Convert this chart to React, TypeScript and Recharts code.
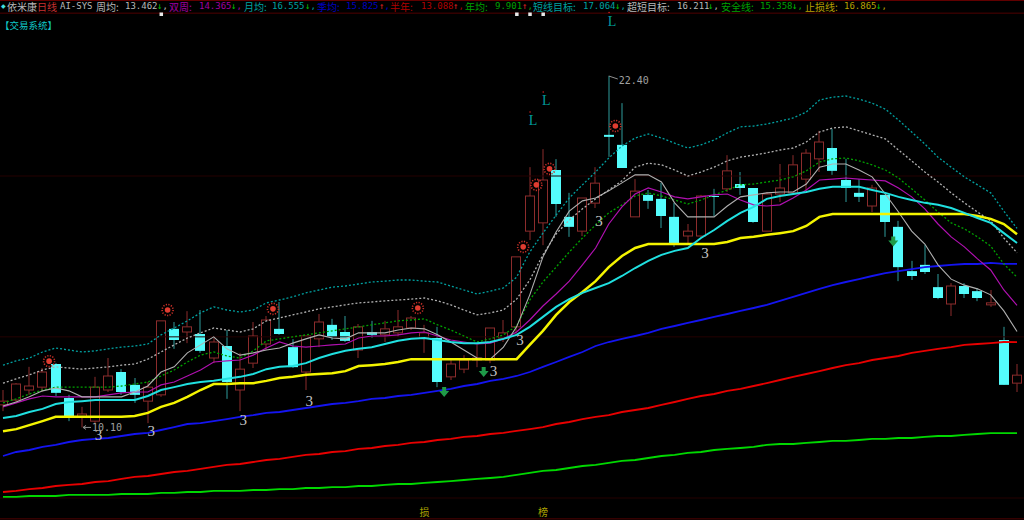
import { Bar, ComposedChart, Line, ReferenceLine, Scatter, XAxis, YAxis } from 'recharts'

const highs = [11.41, 11.65, 12.22, 12.18, 12.35, 11.24, 10.82, 11.87, 12.53, 12.14, 11.83, 11.69, 13.83, 13.79, 14.17, 14.21, 13.23, 13.51, 12.71, 13.79, 14.0, 14.49, 13.19, 13.3, 14.07, 13.9, 14.0, 13.72, 13.83, 13.83, 14.21, 14.0, 13.69, 13.62, 12.46, 12.63, 13.0, 13.58, 13.86, 16.07, 19.21, 19.84, 19.49, 18.31, 18.13, 19.21, 22.4, 21.45, 18.79, 18.41, 18.66, 17.96, 17.22, 18.24, 18.45, 19.63, 19.04, 18.48, 18.34, 19.32, 19.63, 19.84, 20.48, 20.55, 19.5, 18.79, 18.59, 18.24, 17.33, 15.93, 16.49, 15.47, 15.15, 15.15, 14.98, 14.91, 13.62, 12.32]
const lows = [10.67, 10.99, 11.24, 11.34, 11.2, 10.32, 10.1, 10.22, 11.34, 11.24, 10.96, 10.25, 11.17, 12.85, 13.05, 12.71, 12.35, 11.1, 10.67, 12.18, 12.81, 13.34, 12.18, 11.41, 12.91, 13.16, 13.09, 12.53, 13.23, 13.09, 13.27, 13.51, 12.71, 11.51, 11.76, 12.0, 12.21, 12.35, 13.09, 13.34, 16.66, 16.48, 17.47, 16.77, 16.8, 17.78, 19.57, 19.18, 17.47, 17.75, 17.08, 16.42, 16.52, 16.77, 17.5, 18.34, 18.24, 17.26, 16.97, 17.99, 18.31, 18.37, 19.04, 18.94, 17.99, 17.99, 17.64, 16.77, 15.22, 15.26, 15.47, 14.59, 14.0, 14.63, 14.52, 14.32, 11.59, 11.34]
const opens = [10.89, 11.06, 11.41, 11.51, 12.32, 11.13, 10.47, 10.32, 11.41, 12.04, 11.59, 11.02, 11.24, 13.55, 13.44, 13.37, 12.53, 12.95, 11.41, 12.35, 13.02, 13.55, 12.91, 12.04, 13.2, 13.69, 13.44, 12.81, 13.44, 13.34, 13.41, 13.58, 13.23, 13.23, 11.87, 12.14, 12.46, 12.46, 13.23, 13.62, 16.97, 17.26, 19.11, 17.47, 16.97, 17.95, 20.34, 19.99, 17.47, 18.24, 18.1, 17.47, 16.8, 16.8, 18.2, 18.45, 18.62, 18.48, 16.97, 18.27, 18.31, 18.79, 19.5, 19.88, 18.76, 18.31, 17.85, 18.24, 17.12, 15.57, 15.79, 15.01, 14.42, 15.05, 14.87, 14.39, 13.16, 11.65]
const closes = [11.02, 11.62, 11.55, 12.04, 11.31, 10.5, 10.57, 11.51, 11.9, 11.34, 11.24, 11.51, 13.83, 13.16, 13.62, 12.78, 13.09, 11.69, 12.14, 13.3, 13.86, 13.37, 12.21, 13.3, 13.79, 13.27, 13.13, 13.62, 13.34, 13.55, 13.62, 13.93, 13.41, 11.69, 12.32, 12.46, 12.53, 13.58, 13.41, 16.07, 18.2, 18.76, 17.92, 17.12, 18.13, 18.65, 20.27, 19.18, 18.37, 18.03, 17.5, 16.52, 16.97, 18.2, 18.17, 19.08, 18.48, 17.29, 18.27, 18.48, 19.29, 19.7, 20.09, 19.08, 18.48, 18.17, 18.48, 17.29, 15.71, 15.4, 15.54, 14.63, 15.05, 14.77, 14.63, 14.46, 11.59, 11.93]

const weekAvg = [10.85, 10.99, 11.17, 11.38, 11.48, 11.38, 11.17, 11.17, 11.17, 11.17, 11.34, 11.55, 12.04, 12.22, 12.71, 12.99, 13.27, 12.85, 12.63, 12.71, 12.81, 12.88, 13.05, 13.2, 13.34, 13.23, 13.2, 13.41, 13.41, 13.41, 13.51, 13.58, 13.55, 13.34, 13.09, 12.81, 12.53, 12.49, 12.91, 13.62, 14.74, 16.07, 16.94, 17.67, 18.03, 18.13, 18.38, 18.66, 18.94, 18.94, 18.69, 17.96, 17.47, 17.47, 17.47, 17.85, 18.17, 18.24, 18.31, 18.34, 18.34, 18.62, 19.21, 19.32, 19.32, 19.11, 18.87, 18.27, 17.64, 16.97, 16.52, 15.79, 15.29, 15.08, 14.95, 14.74, 14.18, 13.46]
const twoWeekAvg = [10.82, 10.96, 11.1, 11.2, 11.17, 11.17, 11.17, 11.17, 11.24, 11.31, 11.34, 11.34, 11.59, 11.69, 11.9, 12.11, 12.39, 12.43, 12.46, 12.63, 12.88, 13.09, 12.95, 12.91, 12.95, 12.99, 13.02, 13.23, 13.3, 13.3, 13.34, 13.41, 13.44, 13.3, 13.16, 13.09, 13.02, 13.05, 13.2, 13.44, 13.86, 14.35, 14.77, 15.22, 15.79, 16.38, 17.22, 17.82, 18.27, 18.48, 18.34, 18.17, 18.1, 18.17, 18.24, 18.27, 18.06, 17.89, 17.85, 17.89, 18.13, 18.41, 18.76, 18.79, 18.83, 18.79, 18.76, 18.73, 18.48, 18.17, 17.75, 17.22, 16.77, 16.42, 16.0, 15.61, 14.91, 14.37]
const monthAvg = [10.43, 10.5, 10.64, 10.75, 10.92, 10.99, 11.02, 11.06, 11.06, 11.06, 11.06, 11.2, 11.41, 11.51, 11.62, 11.69, 11.73, 11.8, 11.87, 11.97, 12.14, 12.22, 12.25, 12.35, 12.53, 12.67, 12.78, 12.85, 12.91, 13.02, 13.13, 13.2, 13.23, 13.16, 13.09, 13.05, 13.05, 13.09, 13.2, 13.34, 13.62, 13.97, 14.32, 14.59, 14.81, 14.98, 15.15, 15.4, 15.68, 15.93, 16.14, 16.28, 16.38, 16.73, 17.01, 17.33, 17.61, 17.82, 18.1, 18.2, 18.27, 18.34, 18.45, 18.52, 18.52, 18.52, 18.41, 18.31, 18.17, 18.06, 17.96, 17.89, 17.78, 17.61, 17.43, 17.26, 16.9, 16.555]
const stopLoss = [9.97, 10.04, 10.18, 10.32, 10.47, 10.47, 10.47, 10.47, 10.47, 10.47, 10.5, 10.61, 10.82, 10.96, 11.17, 11.41, 11.62, 11.62, 11.65, 11.65, 11.73, 11.83, 11.87, 11.94, 11.97, 12.0, 12.07, 12.25, 12.28, 12.32, 12.39, 12.49, 12.49, 12.49, 12.49, 12.49, 12.49, 12.49, 12.49, 12.49, 12.99, 13.48, 14.04, 14.49, 14.84, 15.22, 15.71, 16.1, 16.38, 16.52, 16.52, 16.52, 16.52, 16.52, 16.52, 16.59, 16.73, 16.77, 16.84, 16.9, 16.97, 17.15, 17.47, 17.57, 17.57, 17.57, 17.57, 17.57, 17.57, 17.57, 17.57, 17.57, 17.57, 17.57, 17.5, 17.4, 17.22, 16.865]
const seasonAvg = [9.1, 9.24, 9.31, 9.42, 9.49, 9.59, 9.66, 9.7, 9.73, 9.8, 9.87, 9.91, 10.01, 10.11, 10.22, 10.25, 10.32, 10.39, 10.47, 10.53, 10.61, 10.64, 10.71, 10.78, 10.85, 10.92, 10.96, 11.02, 11.1, 11.13, 11.2, 11.24, 11.31, 11.38, 11.45, 11.55, 11.62, 11.73, 11.8, 11.9, 12.04, 12.22, 12.39, 12.57, 12.74, 12.95, 13.09, 13.2, 13.3, 13.41, 13.55, 13.65, 13.76, 13.86, 13.97, 14.07, 14.18, 14.28, 14.39, 14.53, 14.67, 14.81, 14.95, 15.08, 15.19, 15.29, 15.4, 15.5, 15.57, 15.64, 15.71, 15.75, 15.79, 15.82, 15.82, 15.86, 15.825, 15.825]
const halfYearAvg = [7.84, 7.88, 7.94, 7.98, 8.05, 8.09, 8.12, 8.19, 8.22, 8.3, 8.37, 8.4, 8.47, 8.54, 8.58, 8.65, 8.72, 8.79, 8.82, 8.89, 8.96, 9.0, 9.07, 9.14, 9.17, 9.24, 9.27, 9.35, 9.38, 9.45, 9.49, 9.56, 9.59, 9.66, 9.7, 9.77, 9.8, 9.87, 9.91, 9.98, 10.04, 10.11, 10.22, 10.29, 10.39, 10.47, 10.53, 10.64, 10.71, 10.78, 10.89, 10.99, 11.1, 11.2, 11.27, 11.38, 11.45, 11.55, 11.65, 11.76, 11.87, 11.97, 12.07, 12.18, 12.28, 12.35, 12.46, 12.53, 12.6, 12.71, 12.78, 12.85, 12.91, 12.99, 13.02, 13.05, 13.09, 13.088]
const yearAvg = [7.67, 7.67, 7.7, 7.7, 7.7, 7.74, 7.74, 7.74, 7.74, 7.77, 7.77, 7.77, 7.81, 7.81, 7.84, 7.84, 7.88, 7.88, 7.88, 7.91, 7.91, 7.94, 7.94, 7.98, 7.98, 8.01, 8.01, 8.05, 8.05, 8.09, 8.12, 8.12, 8.16, 8.19, 8.22, 8.26, 8.3, 8.33, 8.37, 8.44, 8.51, 8.58, 8.61, 8.68, 8.75, 8.79, 8.86, 8.93, 8.96, 9.03, 9.1, 9.14, 9.21, 9.24, 9.31, 9.35, 9.38, 9.42, 9.49, 9.52, 9.52, 9.56, 9.59, 9.63, 9.63, 9.66, 9.7, 9.7, 9.73, 9.73, 9.77, 9.8, 9.8, 9.84, 9.87, 9.9, 9.9, 9.901]
const shortTarget = [12.28, 12.43, 12.53, 12.74, 12.88, 12.81, 12.74, 12.78, 12.85, 12.91, 12.95, 13.02, 13.34, 13.58, 13.83, 14.11, 14.32, 14.21, 14.14, 14.21, 14.46, 14.56, 14.67, 14.81, 14.91, 15.01, 15.05, 15.12, 15.19, 15.22, 15.26, 15.26, 15.22, 15.19, 15.05, 14.91, 14.77, 14.87, 14.98, 15.36, 16.24, 16.9, 17.53, 18.13, 18.59, 19.04, 19.53, 19.95, 20.23, 20.37, 20.23, 20.05, 19.88, 19.99, 20.16, 20.41, 20.62, 20.65, 20.72, 20.82, 20.93, 21.14, 21.56, 21.66, 21.7, 21.59, 21.45, 21.24, 20.86, 20.44, 20.02, 19.56, 19.21, 18.87, 18.59, 18.31, 17.67, 17.064]
const ultraShortTarget = [11.65, 11.8, 11.94, 12.11, 12.22, 12.18, 12.14, 12.18, 12.22, 12.28, 12.32, 12.49, 12.74, 12.99, 13.23, 13.41, 13.58, 13.51, 13.44, 13.55, 13.83, 13.93, 14.04, 14.14, 14.25, 14.32, 14.39, 14.46, 14.49, 14.53, 14.56, 14.59, 14.63, 14.53, 14.39, 14.21, 14.04, 14.11, 14.21, 14.59, 15.26, 16.14, 16.87, 17.36, 17.75, 18.1, 18.41, 18.73, 19.21, 19.35, 19.29, 19.11, 18.9, 19.04, 19.21, 19.43, 19.56, 19.63, 19.71, 19.81, 19.88, 20.09, 20.44, 20.58, 20.62, 20.48, 20.34, 20.2, 19.81, 19.43, 19.04, 18.69, 18.31, 17.96, 17.64, 17.33, 16.73, 16.211]
const safeLine = [10.96, 11.1, 11.27, 11.41, 11.51, 11.51, 11.51, 11.51, 11.51, 11.55, 11.62, 11.69, 11.9, 12.11, 12.39, 12.63, 12.74, 12.6, 12.53, 12.78, 13.13, 13.2, 13.27, 13.34, 13.41, 13.48, 13.55, 13.62, 13.69, 13.76, 13.83, 13.86, 13.9, 13.69, 13.51, 13.3, 13.09, 13.2, 13.34, 13.65, 14.56, 15.19, 15.71, 16.24, 16.73, 17.19, 17.61, 17.89, 18.2, 18.31, 18.2, 18.06, 17.92, 18.06, 18.24, 18.41, 18.59, 18.62, 18.69, 18.76, 18.87, 19.08, 19.39, 19.5, 19.53, 19.43, 19.29, 19.11, 18.83, 18.45, 18.06, 17.64, 17.26, 17.05, 16.77, 16.45, 15.82, 15.358]

const gridPrices = [18.9, 13.27, 7.63]
const sunPoints = [
  { x: 3.5, y: 12.42 }, { x: 12.5, y: 14.21 }, { x: 20.5, y: 14.25 }, { x: 31.5, y: 14.28 },
  { x: 39.5, y: 16.42 }, { x: 40.5, y: 18.59 }, { x: 41.5, y: 19.15 }, { x: 46.5, y: 20.65 },
]
const threePoints = [
  { x: 7.25, y: 9.85 }, { x: 11.25, y: 9.96 }, { x: 18.25, y: 10.36 }, { x: 23.25, y: 11.03 },
  { x: 37.25, y: 12.07 }, { x: 39.25, y: 13.16 }, { x: 45.25, y: 17.33 }, { x: 53.3, y: 16.2 },
]
const lPoints = [{ x: 40.25, y: 20.86 }, { x: 41.25, y: 21.56 }, { x: 46.25, y: 24.34 }]
const arrowPoints = [{ x: 33.5, y: 11.34 }, { x: 36.5, y: 12.04 }, { x: 67.6, y: 16.61 }]
const squarePoints = [{ x: 12, y: 24.57 }, { x: 39, y: 24.57 }, { x: 40, y: 24.57 }, { x: 41, y: 24.57 }]
const footPoints = [{ x: 32, y: 7.14, text: '损' }, { x: 41, y: 7.14, text: '榜' }]
const highMark = [{ x: 46, y: 22.4, text: '22.40' }]
const lowMark = [{ x: 6, y: 10.1, text: '10.10' }]

const headerLabels = [
  { left: 7, text: '依米康', color: '#b8b8b8' },
  { left: 37, text: '日线', color: '#c83030' },
  { left: 96, text: '周均:', color: '#b8b8b8' },
  { left: 169, text: '双周:', color: '#a000a0' },
  { left: 244, text: '月均:', color: '#00a0a0' },
  { left: 317, text: '季均:', color: '#0000c0' },
  { left: 390, text: '半年:', color: '#b00000' },
  { left: 465, text: '年均:', color: '#00a000' },
  { left: 533, text: '短线目标:', color: '#00a0a0' },
  { left: 627, text: '超短目标:', color: '#b8b8b8' },
  { left: 721, text: '安全线:', color: '#00a000' },
  { left: 805, text: '止损线:', color: '#b8a000' },
]
const headerValues = [
  { left: 60, text: 'AI-SYS', color: '#b8b8b8' },
  { left: 125, text: '13.462', color: '#b8b8b8' },
  { left: 199, text: '14.365', color: '#a000a0' },
  { left: 272, text: '16.555', color: '#00a0a0' },
  { left: 346, text: '15.825', color: '#0000c0' },
  { left: 421, text: '13.088', color: '#b00000' },
  { left: 495, text: '9.901', color: '#00a000' },
  { left: 583, text: '17.064', color: '#00a0a0' },
  { left: 677, text: '16.211', color: '#b8b8b8' },
  { left: 760, text: '15.358', color: '#00a000' },
  { left: 844, text: '16.865', color: '#b8a000' },
]
const headerArrows = [
  { left: 157, text: '↓', color: '#00c000', comma: '#b8b8b8' },
  { left: 231, text: '↓', color: '#00c000', comma: '#a000a0' },
  { left: 305, text: '↓', color: '#00c000', comma: '#00a0a0' },
  { left: 379, text: '↑', color: '#e02020', comma: '#0000c0' },
  { left: 453, text: '↑', color: '#e02020', comma: '#b00000' },
  { left: 522, text: '↑', color: '#e02020', comma: '#00a000' },
  { left: 615, text: '↓', color: '#00c000', comma: '#00a0a0' },
  { left: 708, text: '↓', color: '#00c000', comma: '#b8b8b8' },
  { left: 792, text: '↓', color: '#00c000', comma: '#00a000' },
  { left: 876, text: '↓', color: '#00c000', comma: '#b8a000' },
]

const rows = highs.map((high, i) => ({
  x: i,
  range: [lows[i], high],
  high,
  low: lows[i],
  open: opens[i],
  close: closes[i],
  weekAvg: weekAvg[i],
  twoWeekAvg: twoWeekAvg[i],
  monthAvg: monthAvg[i],
  stopLoss: stopLoss[i],
  seasonAvg: seasonAvg[i],
  halfYearAvg: halfYearAvg[i],
  yearAvg: yearAvg[i],
  shortTarget: shortTarget[i],
  ultraShortTarget: ultraShortTarget[i],
  safeLine: safeLine[i],
}))

// the scatter x values make the band narrow, so the body width is set here
const BODY_WIDTH = 10

const Candle = (props: any) => {
  const { x, y, width, height, payload } = props
  const perUnit = height / (payload.high - payload.low)
  const top = y + (payload.high - Math.max(payload.open, payload.close)) * perUnit
  const bottom = y + (payload.high - Math.min(payload.open, payload.close)) * perUnit
  const mid = Math.round(x + width / 2)
  const up = payload.close >= payload.open
  if (up) {
    return (
      <g>
        <line x1={mid} x2={mid} y1={y} y2={top} stroke="#8c2c2c" />
        <line x1={mid} x2={mid} y1={bottom} y2={y + height} stroke="#8c2c2c" />
        <rect x={mid - BODY_WIDTH / 2 + 0.5} y={top} width={BODY_WIDTH - 1} height={Math.max(bottom - top, 1)} fill="#000" stroke="#8c2c2c" />
      </g>
    )
  }
  return (
    <g>
      <line x1={mid} x2={mid} y1={y} y2={y + height} stroke="#2f9c9c" />
      <rect x={mid - BODY_WIDTH / 2} y={top} width={BODY_WIDTH} height={Math.max(bottom - top, 1)} fill="#54fcfc" />
    </g>
  )
}

const Sun = ({ cx, cy }: any) => (
  <g>
    <circle cx={cx} cy={cy} r={2.8} fill="#e03c30" />
    <circle cx={cx} cy={cy} r={5.5} fill="none" stroke="#c83028" strokeWidth={1.6} strokeDasharray="1.2 1.4" />
  </g>
)
const Three = ({ cx, cy }: any) => (
  <text x={cx} y={cy + 5} textAnchor="middle" fontSize={15} fontFamily="Liberation Serif" fill="#c4c4c4">3</text>
)
const LMark = ({ cx, cy }: any) => (
  <g>
    <circle cx={cx - 3} cy={cy - 8} r={0.8} fill="#d02020" />
    <text x={cx} y={cy + 5} textAnchor="middle" fontSize={14} fontFamily="Liberation Serif" fill="#009c9c">L</text>
  </g>
)
const GreenArrow = ({ cx, cy }: any) => (
  <path
    d={`M${cx - 2} ${cy - 5}h4v4h3l-5 6l-5 -6h3z`}
    fill="#1f9a48"
  />
)
const Square = ({ cx, cy }: any) => <rect x={cx - 1.5} y={cy - 1.5} width={3.5} height={3.5} fill="#e8e8e8" />
const Foot = ({ cx, cy, payload }: any) => (
  <text x={cx} y={cy + 4} textAnchor="middle" fontSize={10} fontFamily="Noto Sans CJK SC" fill="#a8a000">{payload.text}</text>
)
const HighNote = ({ cx, cy, payload }: any) => (
  <g>
    <path d={`M${cx} ${cy}l9 3`} stroke="#909090" fill="none" />
    <text x={cx + 10} y={cy + 8} fontSize={10} fontFamily="DejaVu Sans Mono" fill="#a0a0a0">{payload.text}</text>
  </g>
)
const LowNote = ({ cx, cy, payload }: any) => (
  <g>
    <path d={`M${cx + 1} ${cy}h8M${cx + 1} ${cy}l3 -2M${cx + 1} ${cy}l3 2`} stroke="#909090" fill="none" />
    <text x={cx + 10} y={cy + 4} fontSize={10} fontFamily="DejaVu Sans Mono" fill="#a0a0a0">{payload.text}</text>
  </g>
)

const labelStyle = { position: 'absolute', top: 0, fontSize: 10, lineHeight: '13px', fontFamily: 'Noto Sans CJK SC', whiteSpace: 'nowrap' } as const
const valueStyle = { position: 'absolute', top: 0, fontSize: 9, lineHeight: '13px', fontFamily: 'DejaVu Sans Mono', whiteSpace: 'nowrap' } as const

export default function App() {
  return (
    <div style={{ position: 'absolute', left: 0, top: 0, width: 1024, height: 520, background: '#000', overflow: 'hidden' }}>
      <ComposedChart width={1024} height={520} data={rows} margin={{ top: 0, right: 0, bottom: 0, left: 0 }}>
        <XAxis dataKey="x" type="number" domain={[-0.228, 77.53]} hide allowDataOverflow />
        <YAxis type="number" domain={[6.86, 25.06]} hide allowDataOverflow />
        {gridPrices.map(p => (
          <ReferenceLine key={p} y={p} stroke="#240000" />
        ))}
        <ReferenceLine y={24.6} stroke="#500000" />
        <ReferenceLine y={6.9} stroke="#500000" />
        <Bar dataKey="range" barSize={10} isAnimationActive={false} shape={<Candle />} />
        <Line dataKey="yearAvg" stroke="#00d800" strokeWidth={1.8} dot={false} isAnimationActive={false} />
        <Line dataKey="halfYearAvg" stroke="#e80000" strokeWidth={1.8} dot={false} isAnimationActive={false} />
        <Line dataKey="seasonAvg" stroke="#1414f0" strokeWidth={1.8} dot={false} isAnimationActive={false} />
        <Line dataKey="shortTarget" stroke="#00a0a0" strokeWidth={1.3} strokeDasharray="2 2" dot={false} isAnimationActive={false} />
        <Line dataKey="ultraShortTarget" stroke="#b0b0b0" strokeWidth={1.3} strokeDasharray="2 2" dot={false} isAnimationActive={false} />
        <Line dataKey="safeLine" stroke="#00a000" strokeWidth={1.3} strokeDasharray="2 2" dot={false} isAnimationActive={false} />
        <Line dataKey="twoWeekAvg" stroke="#b010b0" strokeWidth={1.2} dot={false} isAnimationActive={false} />
        <Line dataKey="weekAvg" stroke="#b0b0b0" strokeWidth={1.1} dot={false} isAnimationActive={false} />
        <Line dataKey="stopLoss" stroke="#f4f400" strokeWidth={2.5} dot={false} isAnimationActive={false} />
        <Line dataKey="monthAvg" stroke="#20e0e0" strokeWidth={2} dot={false} isAnimationActive={false} />
        <Scatter data={sunPoints} dataKey="y" shape={<Sun />} isAnimationActive={false} />
        <Scatter data={threePoints} dataKey="y" shape={<Three />} isAnimationActive={false} />
        <Scatter data={lPoints} dataKey="y" shape={<LMark />} isAnimationActive={false} />
        <Scatter data={arrowPoints} dataKey="y" shape={<GreenArrow />} isAnimationActive={false} />
        <Scatter data={squarePoints} dataKey="y" shape={<Square />} isAnimationActive={false} />
        <Scatter data={footPoints} dataKey="y" shape={<Foot />} isAnimationActive={false} />
        <Scatter data={highMark} dataKey="y" shape={<HighNote />} isAnimationActive={false} />
        <Scatter data={lowMark} dataKey="y" shape={<LowNote />} isAnimationActive={false} />
      </ComposedChart>

      <div style={{ position: 'absolute', left: 1, top: 0, color: '#40e0e0', fontSize: 6, lineHeight: '13px' }}>◆</div>
      {headerLabels.map(h => (
        <span key={h.left} style={{ ...labelStyle, left: h.left, color: h.color }}>{h.text}</span>
      ))}
      {headerValues.map(h => (
        <span key={h.left} style={{ ...valueStyle, left: h.left, color: h.color }}>{h.text}</span>
      ))}
      {headerArrows.map(h => (
        <span key={h.left} style={{ ...valueStyle, left: h.left, color: h.color }}>
          {h.text}
          <span style={{ color: h.comma }}>,</span>
        </span>
      ))}
      <div style={{ position: 'absolute', left: 0, top: 18, color: '#10c8c8', fontSize: 9.5, lineHeight: '14px', fontFamily: 'Noto Sans CJK SC' }}>【交易系统】</div>
      <div style={{ position: 'absolute', left: 0, top: 0, width: 1024, height: 1, background: '#600000' }} />
    </div>
  )
}
